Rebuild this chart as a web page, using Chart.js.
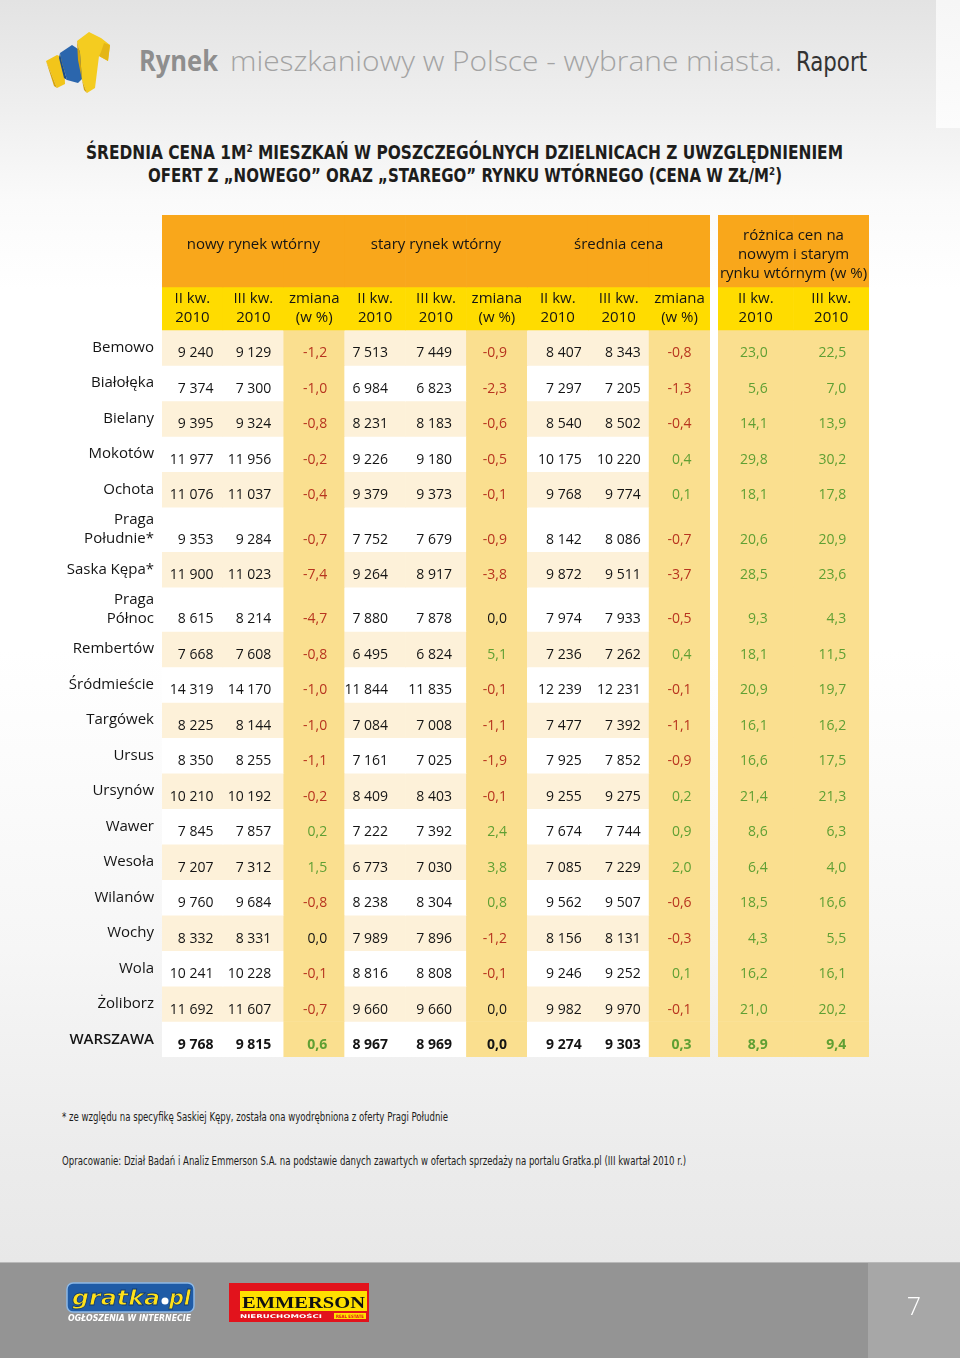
<!DOCTYPE html>
<html lang="pl">
<head>
<meta charset="utf-8">
<title>Średnia cena 1m2 mieszkań w dzielnicach Warszawy</title>
<script src="https://cdn.jsdelivr.net/npm/chart.js@4.4.1/dist/chart.umd.min.js"></script>
<style>
  html, body { margin: 0; padding: 0; }
  body {
    width: 960px; height: 1358px; position: relative; overflow: hidden;
    font-family: "Open Sans", "Noto Sans", sans-serif;
    background: linear-gradient(180deg, #e3e3e3 0px, #efefef 110px, #fafafa 200px, #ffffff 290px,
                #ffffff 650px, #f6f6f6 950px, #ececec 1150px, #e8e8e8 1262px);
  }
  .strip { position: absolute; left: 936px; top: 0; width: 24px; height: 128px;
           background: linear-gradient(180deg, #f6f6f6, #fcfcfc); }
  svg.page { position: absolute; left: 0; top: 0; }
  #mainTable { position: absolute; left: 0; top: 215px; }
  #diffTable { position: absolute; left: 718px; top: 215px; }
  .footer { position: absolute; left: 0; top: 1262px; width: 960px; height: 96px; background: #949494;
            border-top: 1px solid #b9b9b9; }
  .footer .page-no { position: absolute; left: 868px; top: 0; width: 92px; height: 96px; background: #a7a7a7; }
</style>
</head>
<body>
<div class="strip"></div>

<svg class="page" width="960" height="1358" viewBox="0 0 960 1358">
  <!-- logo -->
  <polygon points="46,61 57,55 64,58 65,84 57,88 51,73" fill="#f2c51a"/>
  <polygon points="51,73 57,88 54,86 47,64 46,61" fill="#d8a50c"/>
  <polygon points="60,53 72,45 81,51 85,76 78,83 67,80 62,63" fill="#2b66ad"/>
  <polygon points="62,63 67,80 64,78 59,58 60,53" fill="#1b4c8a"/>
  <polygon points="77,41 89,32 101,38 110,45 108,61 99,56 95,88 87,93 82,80 80,53" fill="#f4cc20"/>
  <polygon points="80,53 82,80 87,93 84,90 78,60 77,41" fill="#d6a40b"/>
  <polygon points="99,56 108,61 110,45 104,43 101,52" fill="#e4b616"/>

  <!-- page header -->
  <text x="139" y="71" textLength="79" lengthAdjust="spacingAndGlyphs"
        font-family="Open Sans, Noto Sans, sans-serif" font-weight="700" font-size="28" fill="#8e8e8e">Rynek</text>
  <text x="230" y="71" textLength="552" lengthAdjust="spacingAndGlyphs"
        font-family="Open Sans, Noto Sans, sans-serif" font-weight="300" font-size="28" fill="#a3a3a3">mieszkaniowy w Polsce - wybrane miasta.</text>
  <text x="796" y="71" textLength="71" lengthAdjust="spacingAndGlyphs"
        font-family="Liberation Sans Narrow, DejaVu Sans Condensed, sans-serif" font-size="27" fill="#333333">Raport</text>

  <!-- chart title -->
  <text x="86" y="159" textLength="757" lengthAdjust="spacingAndGlyphs"
        font-family="Liberation Sans Narrow, DejaVu Sans Condensed, sans-serif" font-weight="700" font-size="19" fill="#1d1d1b">ŚREDNIA CENA 1M<tspan font-size="11" dy="-7">2</tspan><tspan dy="7"> MIESZKAŃ W POSZCZEGÓLNYCH DZIELNICACH Z UWZGLĘDNIENIEM</tspan></text>
  <text x="148" y="182" textLength="634" lengthAdjust="spacingAndGlyphs"
        font-family="Liberation Sans Narrow, DejaVu Sans Condensed, sans-serif" font-weight="700" font-size="19" fill="#1d1d1b">OFERT Z „NOWEGO” ORAZ „STAREGO” RYNKU WTÓRNEGO (CENA W ZŁ/M<tspan font-size="11" dy="-7">2</tspan><tspan dy="7">)</tspan></text>

  <!-- notes -->
  <text x="62" y="1121" textLength="386" lengthAdjust="spacingAndGlyphs"
        font-family="Liberation Sans Narrow, DejaVu Sans Condensed, sans-serif" font-size="12.5" fill="#1d1d1b">* ze względu na specyfikę Saskiej Kępy, została ona wyodrębniona z oferty Pragi Południe</text>
  <text x="62" y="1165" textLength="624" lengthAdjust="spacingAndGlyphs"
        font-family="Liberation Sans Narrow, DejaVu Sans Condensed, sans-serif" font-size="12.5" fill="#1d1d1b">Opracowanie: Dział Badań i Analiz Emmerson S.A. na podstawie danych zawartych w ofertach sprzedaży na portalu Gratka.pl (III kwartał 2010 r.)</text>
</svg>

<canvas id="mainTable" width="712" height="843"></canvas>
<canvas id="diffTable" width="151" height="843"></canvas>

<div class="footer"><div class="page-no"></div></div>
<svg class="page" width="960" height="1358" viewBox="0 0 960 1358" style="pointer-events:none">
  <!-- gratka.pl -->
  <rect x="67" y="1283" width="127" height="29" rx="6" fill="#1f5ba6" stroke="#8cb8e6" stroke-width="1.5"/>
  <text x="72" y="1305" font-family="DejaVu Sans, sans-serif" font-style="italic" font-weight="700" font-size="21"
        fill="#ffe11a" stroke="#123a6e" stroke-width="0.8" textLength="88" lengthAdjust="spacingAndGlyphs">gratka</text>
  <circle cx="165" cy="1301" r="3.5" fill="#ffffff"/>
  <text x="169" y="1305" font-family="DejaVu Sans, sans-serif" font-style="italic" font-weight="700" font-size="21"
        fill="#ffe11a" stroke="#123a6e" stroke-width="0.8" textLength="22" lengthAdjust="spacingAndGlyphs">pl</text>
  <text x="68" y="1321" font-family="DejaVu Sans, sans-serif" font-style="italic" font-weight="700" font-size="8"
        fill="#ffffff" textLength="123" lengthAdjust="spacingAndGlyphs">OGŁOSZENIA W INTERNECIE</text>
  <!-- Emmerson -->
  <rect x="229" y="1283" width="140" height="39" fill="#e2131c"/>
  <rect x="240" y="1291" width="127" height="20" fill="#ffe000"/>
  <text x="242" y="1308" font-family="Liberation Serif, DejaVu Serif, serif" font-weight="700" font-size="17"
        fill="#111111" textLength="123" lengthAdjust="spacingAndGlyphs">EMMERSON</text>
  <text x="240" y="1318" font-family="DejaVu Sans, sans-serif" font-weight="700" font-size="5"
        fill="#ffffff" textLength="82" lengthAdjust="spacingAndGlyphs">NIERUCHOMOŚCI</text>
  <rect x="334" y="1313" width="32" height="6" fill="#ffe000"/>
  <text x="336" y="1318" font-family="DejaVu Sans, sans-serif" font-weight="700" font-size="4.5"
        fill="#e2131c" textLength="28" lengthAdjust="spacingAndGlyphs">REAL ESTATE</text>
  <!-- page number -->
  <text x="914" y="1315" text-anchor="middle" font-family="Open Sans, sans-serif" font-weight="300" font-size="25" fill="#ffffff">7</text>
</svg>

<script>
// ---------- data ----------
const districts = ["Bemowo", "Białołęka", "Bielany", "Mokotów", "Ochota", "Praga\nPołudnie*", "Saska Kępa*",
  "Praga\nPółnoc", "Rembertów", "Śródmieście", "Targówek", "Ursus", "Ursynów", "Wawer", "Wesoła",
  "Wilanów", "Wochy", "Wola", "Żoliborz", "WARSZAWA"];

const groupTitles = [["nowy rynek wtórny"], ["stary rynek wtórny"], ["średnia cena"]];
const diffTitle = ["różnica cen na", "nowym i starym", "rynku wtórnym (w %)"];
const q2Label = ["II kw.", "2010"];
const q3Label = ["III kw.", "2010"];
const changeLabel = ["zmiana", "(w %)"];

// nowy rynek wtórny
const newQ2 = [9240, 7374, 9395, 11977, 11076, 9353, 11900, 8615, 7668, 14319, 8225, 8350, 10210, 7845, 7207, 9760, 8332, 10241, 11692, 9768];
const newQ3 = [9129, 7300, 9324, 11956, 11037, 9284, 11023, 8214, 7608, 14170, 8144, 8255, 10192, 7857, 7312, 9684, 8331, 10228, 11607, 9815];
const newChange = [-1.2, -1.0, -0.8, -0.2, -0.4, -0.7, -7.4, -4.7, -0.8, -1.0, -1.0, -1.1, -0.2, 0.2, 1.5, -0.8, 0.0, -0.1, -0.7, 0.6];
// stary rynek wtórny
const oldQ2 = [7513, 6984, 8231, 9226, 9379, 7752, 9264, 7880, 6495, 11844, 7084, 7161, 8409, 7222, 6773, 8238, 7989, 8816, 9660, 8967];
const oldQ3 = [7449, 6823, 8183, 9180, 9373, 7679, 8917, 7878, 6824, 11835, 7008, 7025, 8403, 7392, 7030, 8304, 7896, 8808, 9660, 8969];
const oldChange = [-0.9, -2.3, -0.6, -0.5, -0.1, -0.9, -3.8, 0.0, 5.1, -0.1, -1.1, -1.9, -0.1, 2.4, 3.8, 0.8, -1.2, -0.1, 0.0, 0.0];
// średnia cena
const avgQ2 = [8407, 7297, 8540, 10175, 9768, 8142, 9872, 7974, 7236, 12239, 7477, 7925, 9255, 7674, 7085, 9562, 8156, 9246, 9982, 9274];
const avgQ3 = [8343, 7205, 8502, 10220, 9774, 8086, 9511, 7933, 7262, 12231, 7392, 7852, 9275, 7744, 7229, 9507, 8131, 9252, 9970, 9303];
const avgChange = [-0.8, -1.3, -0.4, 0.4, 0.1, -0.7, -3.7, -0.5, 0.4, -0.1, -1.1, -0.9, 0.2, 0.9, 2.0, -0.6, -0.3, 0.1, -0.1, 0.3];
// różnica cen nowy / stary (w %)
const diffQ2 = [23.0, 5.6, 14.1, 29.8, 18.1, 20.6, 28.5, 9.3, 18.1, 20.9, 16.1, 16.6, 21.4, 8.6, 6.4, 18.5, 4.3, 16.2, 21.0, 8.9];
const diffQ3 = [22.5, 7.0, 13.9, 30.2, 17.8, 20.9, 23.6, 4.3, 11.5, 19.7, 16.2, 17.5, 21.3, 6.3, 4.0, 16.6, 5.5, 16.1, 20.2, 9.4];

// ---------- look ----------
const ORANGE = "#f9a71b", YELLOW = "#ffdc00", GOLD = "#fadf8f", CREAM = "#fdf1d9", WHITE = "#ffffff";
const INK = "#141414", RED = "#b7341f", GREEN = "#5f9f33";
const FONT = '"Open Sans", "Noto Sans", sans-serif';
const LINE = 19;

// row heights in "row units": two header bands, then one per district (two-line names are taller)
const bandUnits = [2.03, 1.21, ...districts.map(d => d.includes("\n") ? 1.25 : 1)];
const bands = [];
let acc = 0;
bandUnits.forEach((h, i) => {
  bands.push({ top: acc, bottom: acc + h, kind: i === 0 ? "group" : i === 1 ? "period" : "row", row: i - 2 });
  acc += h;
});
const TOTAL = acc;

const fmtPrice = v => String(v).replace(/\B(?=(\d{3})+(?!\d))/g, " ");
const fmtPct = v => v.toFixed(1).replace(".", ",");

function cellFill(b, col) {
  if (b.kind === "group") return ORANGE;
  if (b.kind === "period") return YELLOW;
  if (col.kind !== "price") return GOLD;
  return b.row % 2 === 0 ? CREAM : WHITE;
}

function valueStyle(col, v) {
  if (col.kind === "price") return [fmtPrice(v), INK];
  if (col.kind === "diff") return [fmtPct(v), GREEN];
  return [fmtPct(v), v < 0 ? RED : v > 0 ? GREEN : INK];
}

// text layer: headers, district names and cell values, placed with the chart's scales
function tableText(cols, groups, rowLabels) {
  return {
    id: "tableText",
    afterDatasetsDraw(chart) {
      const { ctx, scales: { x, y } } = chart;
      const mid = b => (y.getPixelForValue(b.top) + y.getPixelForValue(b.bottom)) / 2;
      ctx.save();
      ctx.textBaseline = "middle";
      ctx.fillStyle = INK;

      // group headers (orange band)
      ctx.font = "15px " + FONT;
      ctx.textAlign = "center";
      groups.forEach(g => {
        const cx = (x.getPixelForValue(g.from) + x.getPixelForValue(g.to)) / 2;
        g.title.forEach((t, i) => ctx.fillText(t, cx, mid(bands[0]) + g.dy + (i - (g.title.length - 1) / 2) * LINE));
      });

      // period headers (yellow band)
      chart.data.labels.forEach((lab, i) => {
        const cx = x.getPixelForValue(i);
        lab.forEach((t, k) => ctx.fillText(t, cx, mid(bands[1]) + (k - (lab.length - 1) / 2) * LINE));
      });

      // district names
      if (rowLabels) {
        ctx.textAlign = "right";
        districts.forEach((d, r) => {
          const b = bands[r + 2];
          const lines = d.split("\n");
          ctx.font = (d === "WARSZAWA" ? "600 " : "") + "15px " + FONT;
          lines.forEach((t, k) => ctx.fillText(t, chart.chartArea.left - 8, mid(b) + (k - (lines.length - 1) / 2) * LINE));
        });
      }

      // values
      ctx.textAlign = "right";
      cols.forEach((col, ci) => {
        const xr = x.getPixelForValue(ci) + col.shift;
        col.values.forEach((v, r) => {
          const b = bands[r + 2];
          const [txt, colour] = valueStyle(col, v);
          ctx.font = (districts[r] === "WARSZAWA" ? "700 " : "") + "14px " + FONT;
          ctx.fillStyle = colour;
          ctx.fillText(txt, xr, y.getPixelForValue(b.bottom) - 12);
        });
      });
      ctx.restore();
    }
  };
}

function tableChart(id, cols, groups, rowLabels) {
  return new Chart(document.getElementById(id), {
    type: "bar",
    data: {
      labels: cols.map(c => c.head),
      datasets: bands.map(b => ({
        data: cols.map(() => [b.top, b.bottom]),
        backgroundColor: cols.map(c => cellFill(b, c))
      }))
    },
    options: {
      responsive: false,
      animation: false,
      events: [],
      layout: { padding: { left: rowLabels ? 162 : 0, right: rowLabels ? 2 : 0, top: 0, bottom: 1 } },
      datasets: { bar: { grouped: false, barPercentage: 1, categoryPercentage: 1, borderWidth: 0, borderSkipped: false } },
      scales: {
        x: { type: "category", display: false },
        y: { type: "linear", display: false, reverse: true, min: 0, max: TOTAL }
      },
      plugins: { legend: { display: false }, tooltip: { enabled: false } }
    },
    plugins: [tableText(cols, groups, rowLabels)]
  });
}

const mainCols = [
  { head: q2Label, values: newQ2, kind: "price", shift: 21 },
  { head: q3Label, values: newQ3, kind: "price", shift: 18 },
  { head: changeLabel, values: newChange, kind: "change", shift: 13 },
  { head: q2Label, values: oldQ2, kind: "price", shift: 13 },
  { head: q3Label, values: oldQ3, kind: "price", shift: 16 },
  { head: changeLabel, values: oldChange, kind: "change", shift: 10 },
  { head: q2Label, values: avgQ2, kind: "price", shift: 24 },
  { head: q3Label, values: avgQ3, kind: "price", shift: 22 },
  { head: changeLabel, values: avgChange, kind: "change", shift: 12 }
];
const mainGroups = groupTitles.map((t, i) => ({ title: t, from: i * 3, to: i * 3 + 2, dy: -6 }));

const diffCols = [
  { head: q2Label, values: diffQ2, kind: "diff", shift: 12 },
  { head: q3Label, values: diffQ3, kind: "diff", shift: 15 }
];
const diffGroups = [{ title: diffTitle, from: 0, to: 1, dy: 4 }];

tableChart("mainTable", mainCols, mainGroups, true);
tableChart("diffTable", diffCols, diffGroups, false);
</script>
</body>
</html>
